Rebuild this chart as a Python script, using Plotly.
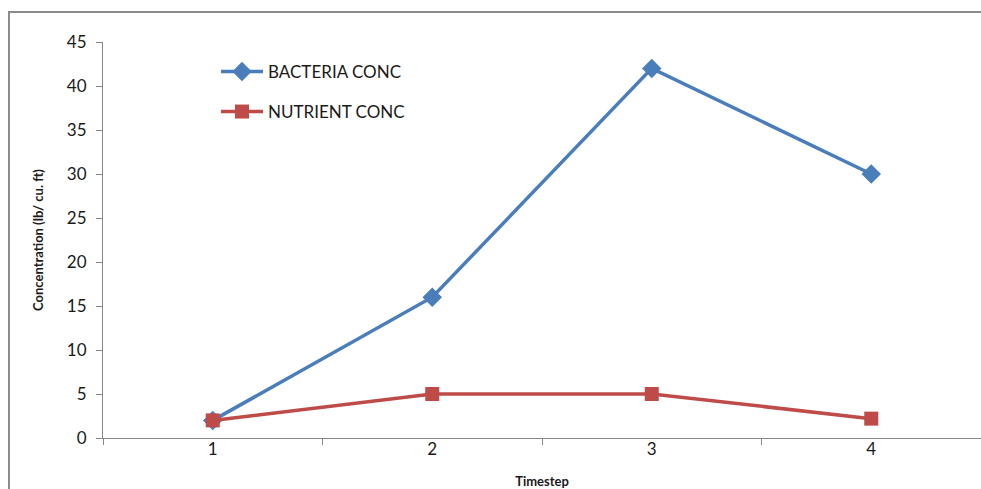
import plotly.graph_objects as go

timesteps = ["1", "2", "3", "4"]
bacteria = [2, 16, 42, 30]
nutrient = [2, 5, 5, 2.2]
y_ticks = [0, 5, 10, 15, 20, 25, 30, 35, 40, 45]

BLUE = "#4A7EBB"
RED = "#BE4B48"
GRAY = "#868686"
FONT = "Lato"
TXT = "#1a1a1a"

fig = go.Figure()
fig.add_trace(go.Scatter(
    x=timesteps, y=bacteria, name="BACTERIA CONC", mode="lines+markers",
    line=dict(color=BLUE, width=3.5),
    marker=dict(symbol="diamond", size=15, color=BLUE),
    legend="legend", showlegend=True,
))
fig.add_trace(go.Scatter(
    x=timesteps, y=nutrient, name="NUTRIENT CONC", mode="lines+markers",
    line=dict(color=RED, width=3.5),
    marker=dict(symbol="square", size=14, color=RED),
    legend="legend2", showlegend=True,
))

W, H = 981, 489
L, R, T, B = 103, 0, 42, 51
pw = W - L - R
ph = H - T - B

def px(xp):
    return (xp - L) / pw

def py(yp):
    return (H - B - yp) / ph

fig.update_layout(
    width=W, height=H,
    showlegend=True,
    margin=dict(l=L, r=R, t=T, b=B, autoexpand=False),
    paper_bgcolor="white", plot_bgcolor="white",
    font=dict(family=FONT, size=17, color=TXT),
    legend=dict(x=px(216), y=py(72), xanchor="left", yanchor="middle",
                bgcolor="rgba(0,0,0,0)", font=dict(size=17, family=FONT, color=TXT),
                itemwidth=42, visible=True),
    legend2=dict(x=px(216), y=py(112), xanchor="left", yanchor="middle",
                 bgcolor="rgba(0,0,0,0)", font=dict(size=17, family=FONT, color=TXT),
                 itemwidth=42, visible=True),
    xaxis=dict(
        type="category", range=[-0.5, 3.5], tickson="boundaries",
        showline=True, linecolor=GRAY, linewidth=1,
        ticks="outside", ticklen=6, tickcolor=GRAY,
        showgrid=False, zeroline=False,
        tickfont=dict(size=17, family=FONT, color=TXT),
        ticklabelstandoff=-4,
        title=dict(text="<b>Timestep</b>", font=dict(size=13, family=FONT, color=TXT),
                   standoff=19),
        automargin=False,
    ),
    yaxis=dict(
        range=[0, 45], tickvals=y_ticks,
        showline=True, linecolor=GRAY, linewidth=1,
        ticks="outside", ticklen=6, tickcolor=GRAY,
        showgrid=False, zeroline=False,
        tickfont=dict(size=17, family=FONT, color=TXT),
        ticklabelstandoff=6,
        title=dict(text="<b>Concentration (lb/ cu. ft)</b>",
                   font=dict(size=13, family=FONT, color=TXT), standoff=20),
        automargin=False,
    ),
    shapes=[dict(
        type="rect", xref="paper", yref="paper",
        x0=px(9), x1=px(1010), y0=py(520), y1=py(12),
        line=dict(color="#8C8C8C", width=2), fillcolor="rgba(0,0,0,0)", layer="below",
    )],
)

fig.write_html("out.html")
